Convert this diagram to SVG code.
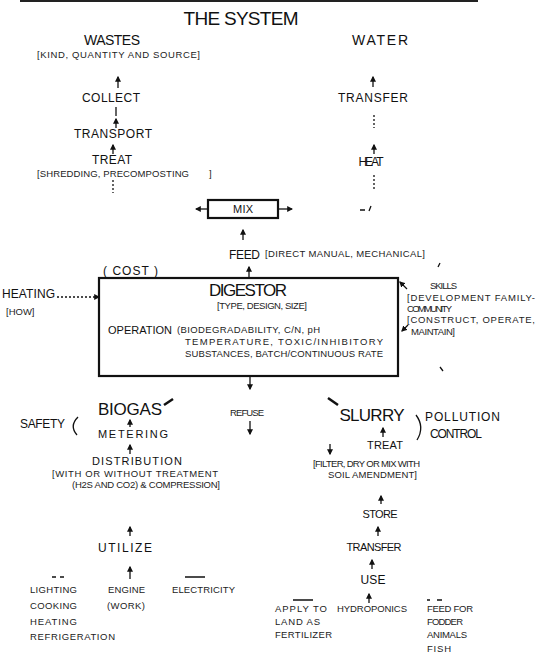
<svg xmlns="http://www.w3.org/2000/svg" width="538" height="667" viewBox="0 0 538 667">
<style>
.t{font-family:"Liberation Sans",Arial,sans-serif;fill:#111}
.c{text-anchor:middle}
.ttl{font-size:19px}
.big{font-size:17px}
.md{font-size:14px}
.lbl{font-size:12px}
.s11{font-size:11px}
.sm{font-size:9.5px;fill:#222}
.ln{stroke:#111;stroke-width:1.3;fill:none}
.dsh{stroke-dasharray:2 2}
.box{fill:none;stroke:#111;stroke-width:2.2}
</style>
<defs>
<marker id="ah" viewBox="0 0 10 10" refX="8" refY="5" markerWidth="6" markerHeight="6" orient="auto" markerUnits="userSpaceOnUse"><path d="M0,0 L10,5 L0,10 z" fill="#111"/></marker>
</defs>
<rect width="538" height="667" fill="#fff"/>
<line x1="20" y1="1" x2="478" y2="1" stroke="#222" stroke-width="2"/>

<g id="title"><text class="t ttl c" x="241" y="25" textLength="115">THE SYSTEM</text></g>

<g id="wastes"><text class="t md c" x="112" y="45" textLength="56">WASTES</text>
<text class="t sm" x="37" y="58" textLength="163">[KIND, QUANTITY AND SOURCE]</text></g>
<g id="collect"><text class="t lbl c" x="111" y="102" textLength="58">COLLECT</text></g>
<g id="transport"><text class="t lbl c" x="113" y="138" textLength="78">TRANSPORT</text></g>
<g id="treat-wastes"><text class="t lbl c" x="112" y="164" textLength="40">TREAT</text>
<text class="t sm" x="37" y="177" textLength="152">[SHREDDING, PRECOMPOSTING</text><text class="t sm" x="209" y="177">]</text></g>

<g id="water"><text class="t md c" x="380" y="45" textLength="56">WATER</text></g>
<g id="transfer-water"><text class="t lbl c" x="373" y="102" textLength="70">TRANSFER</text></g>
<g id="heat"><text class="t lbl c" x="371" y="166" textLength="25">HEAT</text></g>

<g id="mix"><rect class="box" x="208" y="200" width="70" height="18"/><text class="t s11 c" x="243" y="213" textLength="20">MIX</text></g>

<g id="feed"><text class="t lbl" x="229" y="259" textLength="31">FEED</text>
<text class="t sm" x="265" y="257" textLength="160">[DIRECT MANUAL, MECHANICAL]</text></g>

<g id="cost"><text class="t lbl" x="103" y="275" textLength="55">( COST )</text></g>

<g id="digestor"><rect class="box" x="99" y="278" width="299" height="98" stroke-width="2.5"/>
<text class="t big c" x="248" y="296" textLength="78">DIGESTOR</text>
<text class="t sm c" x="262" y="309" textLength="90">[TYPE, DESIGN, SIZE]</text>
<text class="t s11" x="108" y="334" textLength="64">OPERATION</text>
<text class="t sm" x="177" y="333" textLength="143">(BIODEGRADABILITY, C/N, pH</text>
<text class="t sm" x="185" y="345" textLength="198">TEMPERATURE, TOXIC/INHIBITORY</text>
<text class="t sm" x="185" y="357" textLength="198">SUBSTANCES, BATCH/CONTINUOUS RATE</text></g>

<g id="heating"><text class="t lbl" x="2" y="298" textLength="53">HEATING</text>
<text class="t sm" x="6" y="315">[HOW]</text></g>

<g id="skills"><text class="t sm" x="430" y="289" textLength="27">SKILLS</text>
<text class="t sm" x="407" y="301" textLength="128">[DEVELOPMENT FAMILY-</text>
<text class="t sm" x="407" y="312" textLength="45">COMMUNITY</text>
<text class="t sm" x="407" y="323" textLength="128">[CONSTRUCT, OPERATE,</text>
<text class="t sm" x="411" y="335" textLength="44">MAINTAIN]</text></g>

<g id="refuse"><text class="t sm c" x="247" y="416" textLength="34">REFUSE</text></g>

<g id="biogas"><text class="t big c" x="130" y="415" textLength="64">BIOGAS</text></g>
<g id="safety"><text class="t lbl" x="20" y="428" textLength="45">SAFETY</text>
<path class="ln" d="M78,417 Q69,426 77,435"/></g>
<g id="metering"><text class="t s11 c" x="133" y="438" textLength="70">METERING</text></g>
<g id="distribution"><text class="t s11 c" x="137" y="465" textLength="90">DISTRIBUTION</text>
<text class="t sm" x="52" y="477" textLength="166">[WITH OR WITHOUT TREATMENT</text>
<text class="t sm" x="72" y="488" textLength="148">(H2S AND CO2) &amp; COMPRESSION]</text></g>
<g id="utilize"><text class="t lbl c" x="125" y="552" textLength="54">UTILIZE</text></g>
<g id="uses-gas">
<text class="t sm" x="30" y="593" textLength="47">LIGHTING</text>
<text class="t sm" x="30" y="609" textLength="47">COOKING</text>
<text class="t sm" x="30" y="625" textLength="47">HEATING</text>
<text class="t sm" x="30" y="640" textLength="85">REFRIGERATION</text>
<text class="t sm" x="108" y="593" textLength="37">ENGINE</text>
<text class="t sm" x="107" y="609" textLength="38">(WORK)</text>
<text class="t sm" x="172" y="593" textLength="63">ELECTRICITY</text></g>

<g id="slurry"><text class="t big c" x="372" y="421" textLength="65">SLURRY</text></g>
<g id="pollution"><path class="ln" d="M416,415 Q425,427 417,440"/>
<text class="t lbl" x="425" y="421" textLength="75">POLLUTION</text>
<text class="t lbl" x="430" y="438" textLength="52">CONTROL</text></g>
<g id="treat-slurry"><text class="t s11 c" x="385" y="449" textLength="36">TREAT</text>
<text class="t sm" x="313" y="467" textLength="107">[FILTER, DRY OR MIX WITH</text>
<text class="t sm" x="328" y="478" textLength="89">SOIL AMENDMENT]</text></g>
<g id="store"><text class="t s11 c" x="380" y="518" textLength="35">STORE</text></g>
<g id="transfer-slurry"><text class="t s11 c" x="374" y="551" textLength="55">TRANSFER</text></g>
<g id="use"><text class="t lbl c" x="373" y="584" textLength="25">USE</text></g>
<g id="uses-slurry">
<text class="t sm" x="275" y="612" textLength="52">APPLY TO</text>
<text class="t sm" x="275" y="625" textLength="45">LAND AS</text>
<text class="t sm" x="275" y="638" textLength="57">FERTILIZER</text>
<text class="t sm" x="337" y="612" textLength="70">HYDROPONICS</text>
<text class="t sm" x="427" y="612" textLength="46">FEED FOR</text>
<text class="t sm" x="427" y="625" textLength="36">FODDER</text>
<text class="t sm" x="427" y="638" textLength="40">ANIMALS</text>
<text class="t sm" x="427" y="652" textLength="24">FISH</text></g>

<g id="connectors">
<line class="ln" x1="118" y1="88" x2="118" y2="77" marker-end="url(#ah)"/>
<line class="ln" x1="116" y1="107" x2="116" y2="116"/>
<line class="ln" x1="116" y1="128" x2="116" y2="119" marker-end="url(#ah)"/>
<line class="ln" x1="113" y1="154" x2="113" y2="145" marker-end="url(#ah)"/>
<line class="ln dsh" x1="113" y1="180" x2="113" y2="193"/>
<line class="ln" x1="373" y1="87" x2="373" y2="77" marker-end="url(#ah)"/>
<line class="ln dsh" x1="374" y1="115" x2="374" y2="128"/>
<line class="ln" x1="374" y1="154" x2="374" y2="145" marker-end="url(#ah)"/>
<line class="ln dsh" x1="374" y1="175" x2="374" y2="190"/>
<path class="ln" d="M360,210 L365,210 M371,206 L369,211"/>
<line class="ln" x1="208" y1="209" x2="196" y2="209" marker-end="url(#ah)"/>
<line class="ln" x1="278" y1="209" x2="292" y2="209" marker-end="url(#ah)"/>
<line class="ln" x1="243" y1="240" x2="243" y2="230" marker-end="url(#ah)"/>
<line class="ln" x1="249" y1="278" x2="249" y2="267" marker-end="url(#ah)"/>
<line class="ln dsh" x1="57" y1="297" x2="99" y2="297" marker-end="url(#ah)"/>
<line class="ln" x1="407" y1="289" x2="400" y2="282" marker-end="url(#ah)"/>
<line class="ln" x1="408" y1="325" x2="402" y2="331" marker-end="url(#ah)"/>
<path class="ln" d="M440,263 L438,267 M440,367 L443,371"/>
<line class="ln" x1="250" y1="377" x2="250" y2="389" marker-end="url(#ah)"/>
<line class="ln" x1="250" y1="421" x2="250" y2="434" marker-end="url(#ah)"/>
<line x1="164" y1="405" x2="173" y2="399" stroke="#111" stroke-width="2.5"/>
<line x1="328" y1="398" x2="338" y2="405" stroke="#111" stroke-width="2.5"/>
<line class="ln" x1="130" y1="427" x2="130" y2="420" marker-end="url(#ah)"/>
<line class="ln" x1="130" y1="454" x2="130" y2="445" marker-end="url(#ah)"/>
<line class="ln" x1="130" y1="536" x2="130" y2="527" marker-end="url(#ah)"/>
<line class="ln" x1="130" y1="579" x2="130" y2="567" marker-end="url(#ah)"/>
<path class="ln" d="M52,577 L56,577 M60,577 L64,577 M185,577 L205,577"/>
<line class="ln" x1="383" y1="437" x2="383" y2="428" marker-end="url(#ah)"/>
<line class="ln" x1="330" y1="444" x2="330" y2="454" marker-end="url(#ah)"/>
<line class="ln" x1="381" y1="504" x2="381" y2="496" marker-end="url(#ah)"/>
<line class="ln" x1="378" y1="536" x2="378" y2="527" marker-end="url(#ah)"/>
<line class="ln" x1="372" y1="569" x2="372" y2="560" marker-end="url(#ah)"/>
<line class="ln" x1="369" y1="603" x2="369" y2="594" marker-end="url(#ah)"/>
<path class="ln" d="M293,600 L313,600 M427,600 L430,600 M437,600 L442,600"/>
</g>
</svg>
